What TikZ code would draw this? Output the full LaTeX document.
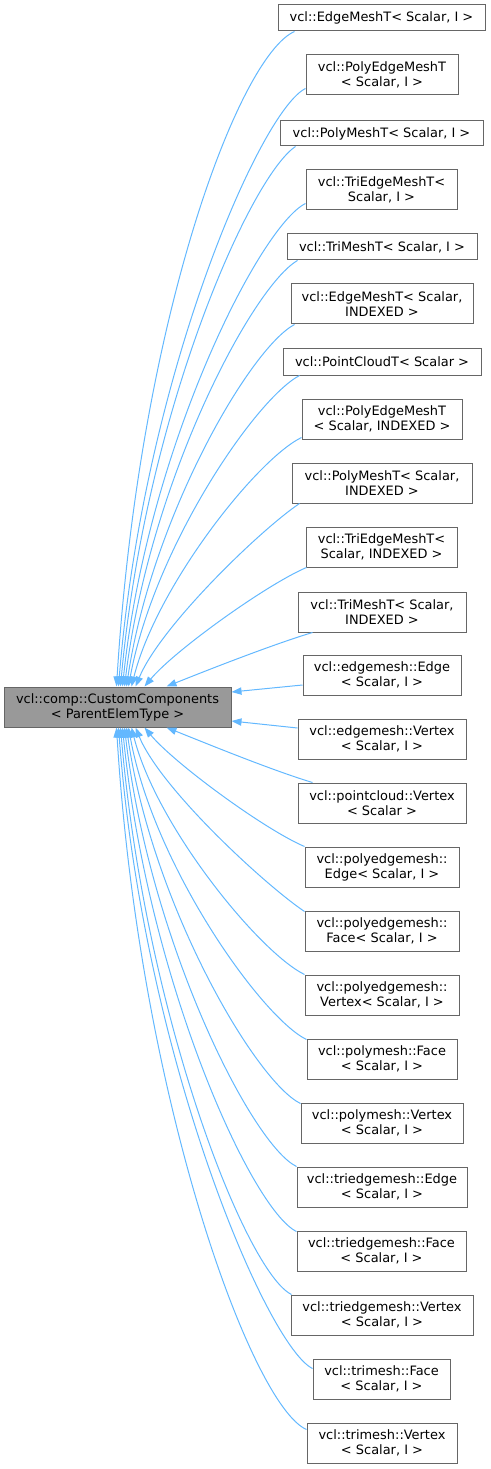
\documentclass[tikz,border=0pt]{standalone}
\usepackage{fontspec}
\setmainfont{DejaVu Sans}
\usetikzlibrary{arrows.meta,calc}
\definecolor{edgeblue}{HTML}{63B8FF}
\definecolor{boxgray}{HTML}{666666}
\definecolor{mainfill}{HTML}{999999}
\begin{document}
\begin{tikzpicture}[x=0.75pt,y=-0.75pt,
  bx/.style 2 args={draw=boxgray,line width=0.75pt,fill=white,inner sep=0pt,align=center,
     font=\fontsize{9.7}{11.2}\selectfont,minimum width=#1*0.75pt,minimum height=#2*0.75pt},
  mainbox/.style={fill=mainfill},
  edge/.style={draw=edgeblue,line width=0.75pt,-{Triangle[length=7.5pt,width=5.5pt]},fill=none}]
\useasboundingbox (0,0) rectangle (491,1469);
\node[bx={227}{40},mainbox] (m) at (117.5,707) {vcl::comp::CustomComponents\\< ParentElemType >};
\node[bx={207}{26}] (c1) at (381.5,18) {vcl::EdgeMeshT< Scalar, I >};
\node[bx={152}{40}] (c2) at (382,75) {vcl::PolyEdgeMeshT\\< Scalar, I >};
\node[bx={203}{25}] (c3) at (381.5,133.5) {vcl::PolyMeshT< Scalar, I >};
\node[bx={151}{40}] (c4) at (381.5,190) {vcl::TriEdgeMeshT<\\Scalar, I >};
\node[bx={190}{26}] (c5) at (382,247) {vcl::TriMeshT< Scalar, I >};
\node[bx={182}{40}] (c6) at (382,304) {vcl::EdgeMeshT< Scalar,\\INDEXED >};
\node[bx={198}{27}] (c7) at (382,361.5) {vcl::PointCloudT< Scalar >};
\node[bx={160}{40}] (c8) at (382,419) {vcl::PolyEdgeMeshT\\< Scalar, INDEXED >};
\node[bx={180}{40}] (c9) at (382,483) {vcl::PolyMeshT< Scalar,\\INDEXED >};
\node[bx={151}{40}] (c10) at (381.5,547) {vcl::TriEdgeMeshT<\\Scalar, INDEXED >};
\node[bx={168}{40}] (c11) at (382,612) {vcl::TriMeshT< Scalar,\\INDEXED >};
\node[bx={158}{40}] (c12) at (382,675) {vcl::edgemesh::Edge\\< Scalar, I >};
\node[bx={168}{40}] (c13) at (382,739) {vcl::edgemesh::Vertex\\< Scalar, I >};
\node[bx={168}{40}] (c14) at (382,803) {vcl::pointcloud::Vertex\\< Scalar >};
\node[bx={154}{40}] (c15) at (382,867) {vcl::polyedgemesh::\\Edge< Scalar, I >};
\node[bx={154}{40}] (c16) at (382,931) {vcl::polyedgemesh::\\Face< Scalar, I >};
\node[bx={154}{40}] (c17) at (382,995) {vcl::polyedgemesh::\\Vertex< Scalar, I >};
\node[bx={150}{40}] (c18) at (382,1059) {vcl::polymesh::Face\\< Scalar, I >};
\node[bx={162}{40}] (c19) at (382,1123) {vcl::polymesh::Vertex\\< Scalar, I >};
\node[bx={170}{40}] (c20) at (382,1187) {vcl::triedgemesh::Edge\\< Scalar, I >};
\node[bx={169}{40}] (c21) at (381.5,1251) {vcl::triedgemesh::Face\\< Scalar, I >};
\node[bx={182}{40}] (c22) at (382,1315) {vcl::triedgemesh::Vertex\\< Scalar, I >};
\node[bx={137}{40}] (c23) at (381.5,1379) {vcl::trimesh::Face\\< Scalar, I >};
\node[bx={150}{40}] (c24) at (382,1443) {vcl::trimesh::Vertex\\< Scalar, I >};
% upper edges
\draw[edge] ($(c1.south west)+(17,0)$) .. controls +(-55,24) and +(23,-370) .. ($(m.north west)+(113,0)$);
\draw[edge] ($(c2.south west)+(0,-7)$) .. controls +(-45,22) and +(25,-309) .. ($(m.north west)+(115,0)$);
\draw[edge] ($(c3.south west)+(16,0)$) .. controls +(-45,30) and +(25,-275) .. ($(m.north west)+(117,0)$);
\draw[edge] ($(c4.south west)+(0,-7)$) .. controls +(-45,22) and +(25,-240) .. ($(m.north west)+(119,0)$);
\draw[edge] ($(c5.south west)+(11,0)$) .. controls +(-45,26) and +(25,-206) .. ($(m.north west)+(121,0)$);
\draw[edge] ($(c6.south west)+(4,0)$) .. controls +(-45,24) and +(25,-168) .. ($(m.north west)+(123,0)$);
\draw[edge] ($(c7.south west)+(17,0)$) .. controls +(-45,24) and +(25,-137) .. ($(m.north west)+(125,0)$);
\draw[edge] ($(c8.south west)+(0,-2)$) .. controls +(-45,22) and +(25,-100) .. ($(m.north west)+(128,0)$);
\draw[edge] ($(c9.south west)+(8,0)$) .. controls +(-40,27) and +(25,-60) .. ($(m.north west)+(132,0)$);
\draw[edge] ($(c10.south west)+(1,0)$) .. controls +(-40,17) and +(30,-36) .. ($(m.north west)+(141,0)$);
\draw[edge] ($(c11.south west)+(15,0)$) .. controls +(-40,12) and +(40,-16) .. ($(m.north west)+(163,0)$);
% side edges
\draw[edge] ($(c12.west)+(0,10)$) -- ($(m.east)+(0,-15)$);
\draw[edge] ($(c13.west)+(0,-11)$) -- ($(m.east)+(0,14)$);
% lower edges
\draw[edge] ($(c14.north west)+(15,0)$) .. controls +(-40,-12) and +(40,16) .. ($(m.south west)+(163,0)$);
\draw[edge] ($(c15.north west)+(0,0)$) .. controls +(-40,-17) and +(30,36) .. ($(m.south west)+(141,0)$);
\draw[edge] ($(c16.north west)+(0,1)$) .. controls +(-40,-27) and +(25,61) .. ($(m.south west)+(132,0)$);
\draw[edge] ($(c17.north west)+(0,0)$) .. controls +(-45,-22) and +(25,99) .. ($(m.south west)+(128,0)$);
\draw[edge] ($(c18.north west)+(0,1)$) .. controls +(-45,-22) and +(25,138) .. ($(m.south west)+(125,0)$);
\draw[edge] ($(c19.north west)+(0,1)$) .. controls +(-45,-22) and +(25,176) .. ($(m.south west)+(123,0)$);
\draw[edge] ($(c20.north west)+(0,0)$) .. controls +(-45,-22) and +(25,214) .. ($(m.south west)+(121,0)$);
\draw[edge] ($(c21.north west)+(0,1)$) .. controls +(-45,-22) and +(25,253) .. ($(m.south west)+(119,0)$);
\draw[edge] ($(c22.north west)+(1,0)$) .. controls +(-45,-22) and +(25,291) .. ($(m.south west)+(117,0)$);
\draw[edge] ($(c23.north west)+(0,10)$) .. controls +(-45,-22) and +(25,332) .. ($(m.south west)+(115,0)$);
\draw[edge] ($(c24.north west)+(0,7)$) .. controls +(-55,-24) and +(23,372) .. ($(m.south west)+(113,0)$);
\end{tikzpicture}
\end{document}
